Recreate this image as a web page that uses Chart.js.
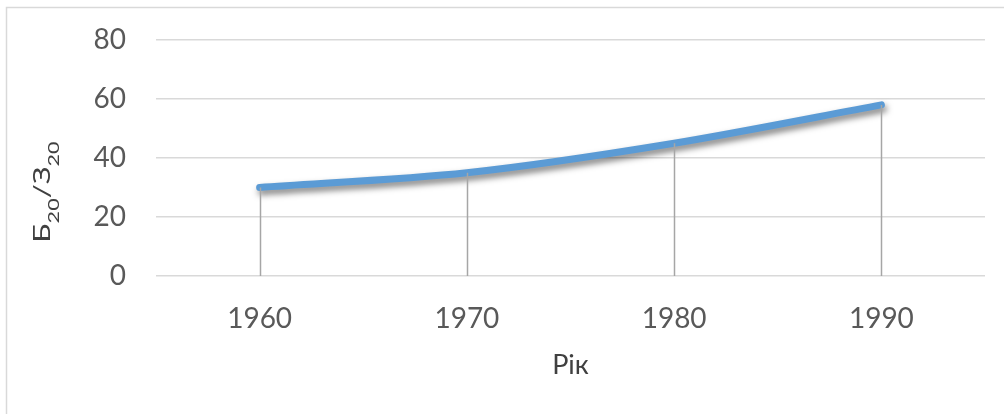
<!DOCTYPE html>
<html>
<head>
<meta charset="utf-8">
<script src="https://cdn.jsdelivr.net/npm/chart.js@4/dist/chart.umd.min.js"></script>
<style>
  html, body { margin: 0; padding: 0; background: #fff; }
  #wrap { width: 1004px; height: 414px; position: relative; }
</style>
</head>
<body>
<div id="wrap"><canvas id="c" width="1004" height="414"></canvas></div>
<script>
const years = ['1960', '1970', '1980', '1990'];
const ratioValues = [30, 35, 45, 58];
const yTicks = [0, 20, 40, 60, 80];
const xTitle = 'Рік';
const yTitleParts = [
  { t: 'Б', sub: false },
  { t: '20', sub: true },
  { t: '/З', sub: false },
  { t: '20', sub: true }
];

const FONT = 'Lato, "Open Sans", "Liberation Sans", sans-serif';

const bgBorder = {
  id: 'bgBorder',
  beforeDraw(chart) {
    const ctx = chart.ctx;
    ctx.save();
    ctx.fillStyle = '#ffffff';
    ctx.fillRect(0, 0, chart.width, chart.height);
    ctx.strokeStyle = '#D9D9D9';
    ctx.lineWidth = 1.5;
    ctx.strokeRect(6.5, 7.5, chart.width + 50, chart.height + 50);
    ctx.restore();
  }
};

const lineShadow = {
  id: 'lineShadow',
  beforeDatasetDraw(chart) {
    const ctx = chart.ctx;
    ctx.save();
    ctx.shadowColor = 'rgba(0,0,0,0.5)';
    ctx.shadowBlur = 6;
    ctx.shadowOffsetX = 2;
    ctx.shadowOffsetY = 4;
  },
  afterDatasetDraw(chart) {
    chart.ctx.restore();
  }
};

const dropLines = {
  id: 'dropLines',
  afterDatasetsDraw(chart) {
    const ctx = chart.ctx;
    const meta = chart.getDatasetMeta(0);
    const y0 = chart.scales.y.getPixelForValue(0);
    ctx.save();
    ctx.strokeStyle = '#A6A6A6';
    ctx.lineWidth = 1.5;
    meta.data.forEach(pt => {
      ctx.beginPath();
      ctx.moveTo(Math.round(pt.x) + 0.5, pt.y);
      ctx.lineTo(Math.round(pt.x) + 0.5, y0);
      ctx.stroke();
    });
    ctx.restore();
  }
};

const yTitlePlugin = {
  id: 'yTitle',
  afterDraw(chart) {
    const ctx = chart.ctx;
    const mainFont = '23px ' + FONT;
    const subFont = '16px ' + FONT;
    const stretch = 1.35;
    ctx.save();
    let total = 0;
    const widths = yTitleParts.map(p => {
      ctx.font = p.sub ? subFont : mainFont;
      const w = ctx.measureText(p.t).width;
      total += w;
      return w;
    });
    const cx = 43, cy = 192;
    ctx.translate(cx, cy);
    ctx.rotate(-Math.PI / 2);
    ctx.scale(stretch, 1);
    ctx.fillStyle = '#404040';
    ctx.textBaseline = 'alphabetic';
    ctx.textAlign = 'left';
    let x = -total / 2;
    yTitleParts.forEach((p, i) => {
      ctx.font = p.sub ? subFont : mainFont;
      ctx.fillText(p.t, x, p.sub ? 16 : 7);
      x += widths[i];
    });
    ctx.restore();
  }
};

new Chart(document.getElementById('c'), {
  type: 'line',
  data: {
    labels: years,
    datasets: [{
      data: ratioValues,
      borderColor: '#5B9BD5',
      borderWidth: 7,
      borderCapStyle: 'round',
      borderJoinStyle: 'round',
      tension: 0.3,
      pointRadius: 0,
      pointHoverRadius: 0,
      fill: false
    }]
  },
  options: {
    responsive: false,
    animation: false,
    devicePixelRatio: 1,
    layout: { padding: { left: 0, top: 40, right: 19, bottom: 0 } },
    plugins: { legend: { display: false }, tooltip: { enabled: false } },
    scales: {
      x: {
        offset: true,
        grid: { display: false, drawTicks: false },
        border: { display: false },
        ticks: { color: '#595959', font: { family: FONT, size: 28 }, padding: 26 },
        title: {
          display: true, text: xTitle, color: '#404040',
          font: { family: FONT, size: 27 }, padding: { top: 0, bottom: 33 }
        },
        afterFit(scale) { scale.height = 138; }
      },
      y: {
        min: 0, max: 80,
        afterBuildTicks(scale) { scale.ticks = yTicks.map(v => ({ value: v })); },
        grid: { color: '#D9D9D9', lineWidth: 1.5, drawTicks: false },
        border: { display: false },
        ticks: { color: '#595959', font: { family: FONT, size: 28 }, padding: 30 },
        afterFit(scale) {
          scale.width = 156;
          scale.paddingTop = 0;
          scale.paddingBottom = 0;
        }
      }
    }
  },
  plugins: [bgBorder, lineShadow, dropLines, yTitlePlugin]
});
</script>
</body>
</html>
